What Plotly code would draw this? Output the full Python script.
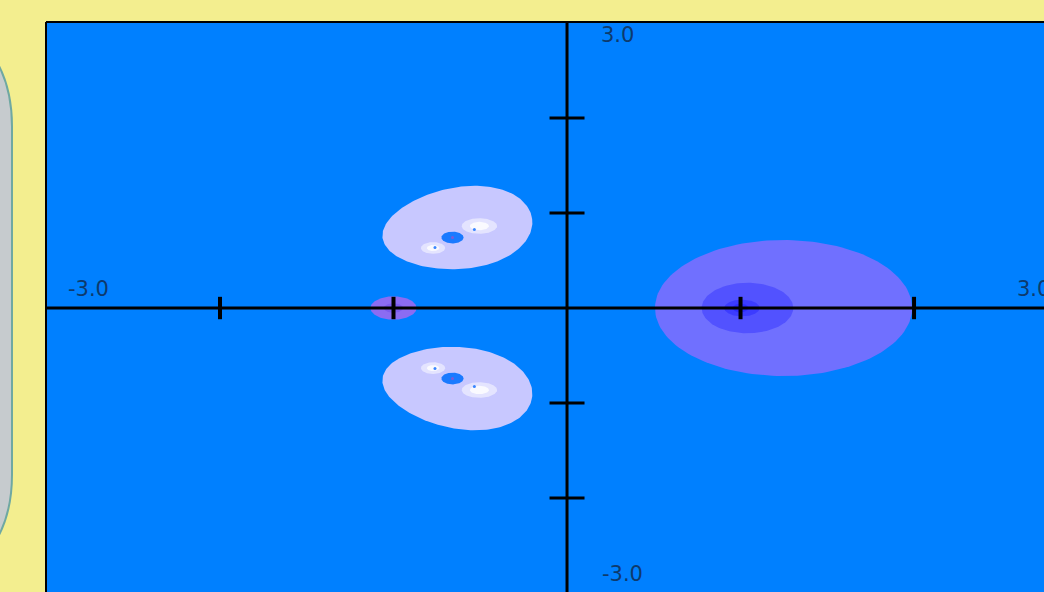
import numpy as np
import plotly.graph_objects as go

# ---- level regions in the complex plane ----
# circular zones on the real axis: centre (re, im), radii, fill colour
zone_re = [1.248, 1.04, 1.008, 1.0, -1.0, -1.0]
zone_im = [0.0, 0.0, 0.0, 0.0, 0.0, 0.0]
zone_rx = [0.741, 0.264, 0.102, 0.045, 0.133, 0.055]
zone_ry = [0.716, 0.266, 0.088, 0.045, 0.123, 0.05]
zone_col = ["#7070FF", "#5252FF", "#3C3CFF", "#2C2CFF", "#8C6CF2", "#7C5CEE"]

# lobe above the axis (the lower one is its conjugate):
# centre, two conjugate semi-diameters (u, v) and a bulge factor
lobe_re = [-0.632]
lobe_im = [0.838]
lobe_ux, lobe_uy = [0.431], [0.0995]
lobe_vx, lobe_vy = [-0.0294], [0.426]
lobe_bulge = [0.10]
lobe_col = ["#C8C8FF"]

# bright spots inside each lobe
spot_re = [-0.505, -0.772]
spot_im = [0.863, 0.632]
spot_rx = [0.102, 0.070]
spot_ry = [0.082, 0.062]
spot_core_rx = [0.055, 0.036]
spot_core_ry = [0.044, 0.032]
spot_col = "#E4E4FF"
core_col = "#FAFAFF"
dot_re = [-0.534, -0.761]
dot_im = [0.826, 0.637]

# dark hole between the spots
hole_re = [-0.660]
hole_im = [0.742]
hole_rx = [0.064]
hole_ry = [0.062]
hole_col = "#1A7AFF"

# axis ticks and end labels
xtick_vals = [-2, -1, 1, 2]
ytick_vals = [-2, -1, 1, 2]
end_labels = ["-3.0", "3.0"]

X_MIN, X_MAX = -2.997, 2.749
Y_MIN, Y_MAX = -2.989, 3.0


def ellipse(cx, cy, rx, ry, n=160):
    t = np.linspace(0, 2 * np.pi, n)
    return cx + rx * np.cos(t), cy + ry * np.sin(t)


def region_xy(x, y, col):
    return go.Scatter(x=x, y=y, mode="lines", fill="toself", fillcolor=col,
                      line=dict(width=0, color=col), hoverinfo="skip", showlegend=False)


def region(cx, cy, rx, ry, col):
    x, y = ellipse(cx, cy, rx, ry)
    return region_xy(x, y, col)


def lobe(i, sgn):
    t = np.linspace(0, 2 * np.pi, 200)
    c, s = np.cos(t), np.sin(t) * (1 + lobe_bulge[i] * np.cos(t))
    x = lobe_re[i] + lobe_ux[i] * c + lobe_vx[i] * s
    y = lobe_im[i] + lobe_uy[i] * c + lobe_vy[i] * s
    return region_xy(x, sgn * y, lobe_col[i])


fig = go.Figure()

for i in range(len(zone_re)):
    fig.add_trace(region(zone_re[i], zone_im[i], zone_rx[i], zone_ry[i], zone_col[i]))

for sgn in (1, -1):
    for i in range(len(lobe_re)):
        fig.add_trace(lobe(i, sgn))
    for i in range(len(spot_re)):
        fig.add_trace(region(spot_re[i], sgn * spot_im[i], spot_rx[i], spot_ry[i], spot_col))
        fig.add_trace(region(spot_re[i], sgn * spot_im[i], spot_core_rx[i], spot_core_ry[i], core_col))
    for i in range(len(hole_re)):
        fig.add_trace(region(hole_re[i], sgn * hole_im[i], hole_rx[i], hole_ry[i], hole_col))
    fig.add_trace(go.Scatter(x=dot_re, y=[sgn * v for v in dot_im], mode="markers",
                             marker=dict(size=3, color="#3A86FF"), hoverinfo="skip",
                             showlegend=False))
    fig.add_trace(go.Scatter(x=hole_re, y=[sgn * v for v in hole_im], mode="markers",
                             marker=dict(size=3, color="#7A5AD8"), hoverinfo="skip",
                             showlegend=False))

# coordinate axes through the origin
fig.add_trace(go.Scatter(x=[X_MIN, X_MAX], y=[0, 0], mode="lines",
                         line=dict(color="black", width=3), hoverinfo="skip", showlegend=False))
fig.add_trace(go.Scatter(x=[0, 0], y=[Y_MIN, Y_MAX], mode="lines",
                         line=dict(color="black", width=3), hoverinfo="skip", showlegend=False))
fig.add_trace(go.Scatter(x=xtick_vals, y=[0] * len(xtick_vals), mode="markers",
                         marker=dict(symbol="line-ns", size=16, line=dict(width=4, color="black")),
                         hoverinfo="skip", showlegend=False))
fig.add_trace(go.Scatter(x=[0] * len(ytick_vals), y=ytick_vals, mode="markers",
                         marker=dict(symbol="line-ew", size=25, line=dict(width=3, color="black")),
                         hoverinfo="skip", showlegend=False))

label_font = dict(family="DejaVu Sans, sans-serif", size=21, color="#0E3A6C")
lo, hi = float(end_labels[0]), float(end_labels[1])
fig.add_annotation(x=0.290, y=hi - 0.13, text=end_labels[1], showarrow=False, font=label_font)
fig.add_annotation(x=0.317, y=lo + 0.2, text=end_labels[0], showarrow=False, font=label_font)
fig.add_annotation(x=lo + 0.245, y=0.2, text=end_labels[0], showarrow=False, font=label_font)
fig.add_annotation(x=hi - 0.31, y=0.2, text=end_labels[1], showarrow=False, font=label_font)

W, H = 1044, 592
ML, MT = 47, 23


def px(xp):
    return (xp - ML) / (W - ML)


def py(yp):
    return (H - yp) / (H - MT)


# side panel with rounded corners, partly off the page
rx_c, ry_c, k = 50, 90, 0.5523
left, right, top, bot = -200, 12, 36.5, 564.5
path = (
    f"M {px(left)},{py(top)} "
    f"L {px(right - rx_c)},{py(top)} "
    f"C {px(right - rx_c + k * rx_c)},{py(top)} {px(right)},{py(top + ry_c - k * ry_c)} {px(right)},{py(top + ry_c)} "
    f"L {px(right)},{py(bot - ry_c)} "
    f"C {px(right)},{py(bot - ry_c + k * ry_c)} {px(right - rx_c + k * rx_c)},{py(bot)} {px(right - rx_c)},{py(bot)} "
    f"L {px(left)},{py(bot)} Z"
)
fig.add_shape(type="path", path=path, xref="paper", yref="paper",
              fillcolor="#C6CBCE", line=dict(color="#6FA8A2", width=2), layer="below")

# frame of the plotting area
fig.add_shape(type="line", xref="paper", yref="paper", x0=px(46), x1=px(46), y0=0, y1=py(22),
              line=dict(color="black", width=2))
fig.add_shape(type="line", xref="paper", yref="paper", x0=px(46), x1=1.0, y0=py(22), y1=py(22),
              line=dict(color="black", width=2))

fig.update_layout(
    width=W, height=H,
    margin=dict(l=ML, r=0, t=MT, b=0, pad=0),
    paper_bgcolor="#F3EE8F",
    plot_bgcolor="#0080FF",
    showlegend=False,
    xaxis=dict(range=[X_MIN, X_MAX], visible=False, fixedrange=True),
    yaxis=dict(range=[Y_MIN, Y_MAX], visible=False, fixedrange=True),
)

fig.write_html("out.html", config={"displayModeBar": False})
